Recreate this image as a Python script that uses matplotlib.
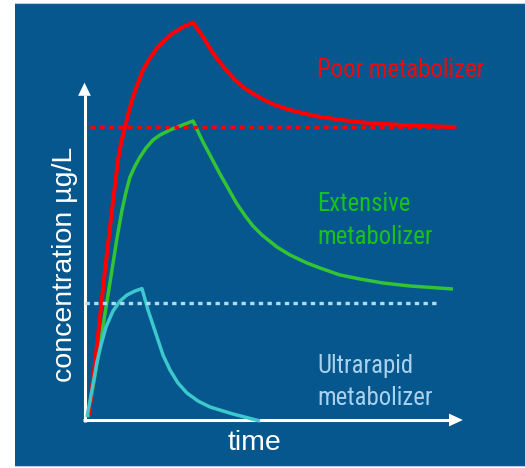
import matplotlib
matplotlib.use("Agg")
import matplotlib.pyplot as plt
from matplotlib import font_manager
from matplotlib.patches import Rectangle, Polygon

# ---- data: time (h) vs concentration (µg/L) for three metabolizer phenotypes ----
poor_t = [0.08, 0.293, 0.507, 0.693, 0.853, 0.933, 1.04, 1.147, 1.253, 1.387,
          1.52, 1.707, 1.893, 2.107, 2.32, 2.587, 2.853, 3.013, 3.173, 3.333,
          3.52, 3.76, 3.973, 4.187, 4.427, 4.72, 5.04, 5.387, 5.76, 6.187,
          6.64, 7.04, 7.52, 7.973, 8.427, 9.173, 9.867]
poor_c = [1.0, 18.5, 37.25, 52.25, 64.75, 69.0, 73.0, 77.0, 80.5, 84.0,
          87.25, 90.25, 92.75, 94.75, 96.5, 98.0, 99.1, 97.0, 94.75, 92.25,
          89.75, 87.0, 84.75, 83.0, 81.5, 79.9, 78.5, 77.4, 76.5, 75.6,
          75.0, 74.5, 74.0, 73.75, 73.5, 73.2, 73.0]

ext_t = [0.053, 0.373, 0.693, 0.827, 0.96, 1.067, 1.173, 1.307, 1.44, 1.6,
         1.787, 1.973, 2.24, 2.507, 2.853, 3.12, 3.573, 4.027, 4.267, 4.453,
         4.693, 5.093, 5.44, 5.893, 6.24, 6.773, 7.307, 7.92, 8.64, 9.787]
ext_c = [0.5, 18.5, 37.25, 45.25, 52.25, 56.75, 60.5, 63.25, 65.5, 67.75,
         69.75, 71.0, 72.25, 73.25, 74.5, 69.25, 61.25, 53.75, 50.5, 48.25,
         46.0, 43.0, 41.0, 39.0, 37.75, 36.0, 35.0, 34.0, 33.25, 32.5]

ultra_t = [0.027, 0.16, 0.293, 0.4, 0.533, 0.72, 0.907, 1.093, 1.307, 1.493,
           1.653, 1.893, 2.053, 2.24, 2.453, 2.693, 2.987, 3.307, 3.92, 4.64]
ultra_c = [0.5, 7.25, 14.25, 18.5, 23.0, 27.0, 29.5, 31.0, 32.0, 32.6,
           27.25, 20.5, 16.0, 12.25, 9.0, 6.5, 4.5, 3.0, 1.25, -0.5]

# therapeutic thresholds (horizontal dotted reference lines)
poor_level = 72.9
poor_level_span = [0.11, 9.87]
ultra_level = 28.9
ultra_level_span = [-0.03, 9.36]

labels = ["Poor metabolizer", ["Extensive", "metabolizer"], ["Ultrarapid", "metabolizer"]]
x_label = "time"
y_label = "concentration µg/L"

# ---- figure ----
W, H = 525, 468
fig = plt.figure(figsize=(W / 100, H / 100), dpi=100, facecolor="white")

ax = fig.add_axes([0, 0, 1, 1])
ax.set_facecolor("none")
ax.axis("off")
ax.set_xlim(-86 / 37.5, (W - 86) / 37.5)
ax.set_ylim((419 - H) / 4, 419 / 4)

# blue panel behind the plot
panel = "#05578e"
ax.add_patch(Rectangle((15 / W, 2.5 / H), 1 - 15 / W, 1 - 6 / H,
                       transform=fig.transFigure, facecolor=panel,
                       edgecolor="none", zorder=0))
for yy in (465.5, 2.8):
    ax.plot([15 / W, 1], [1 - yy / H, 1 - yy / H], transform=fig.transFigure,
            color="#b5cce0", lw=0.8, zorder=1)

# axes with arrowheads
x0, y0 = -0.04, -0.25
x_tip, y_tip = 10.05, 84.1
ax.plot([x0 - 0.04, x_tip - 0.3], [y0, y0], color="white", lw=2.2,
        solid_capstyle="butt", zorder=3)
ax.plot([x0, x0], [y0 - 0.4, y_tip - 3], color="white", lw=2.2,
        solid_capstyle="butt", zorder=3)
ax.add_patch(Polygon([[x_tip, y0], [x_tip - 0.37, y0 + 1.6], [x_tip - 0.37, y0 - 1.6]],
                     closed=True, color="white", lw=0, zorder=3))
ax.add_patch(Polygon([[x0, y_tip], [x0 - 0.17, y_tip - 3.3], [x0 + 0.17, y_tip - 3.3]],
                     closed=True, color="white", lw=0, zorder=3))

# concentration curves
ax.plot(ext_t, ext_c, color="#33c433", lw=2.5, solid_joinstyle="round",
        solid_capstyle="butt", zorder=4)
ax.plot(poor_t, poor_c, color="#ff0000", lw=2.9, solid_joinstyle="round",
        solid_capstyle="butt", zorder=5)
ax.plot(ultra_t, ultra_c, color="#3cc8cc", lw=2.5, solid_joinstyle="round",
        solid_capstyle="butt", zorder=6)

# dotted threshold lines
ax.plot(poor_level_span, [poor_level] * 2, color="#ff0000", lw=2.4,
        dashes=(1.4, 1.4), dash_capstyle="butt", zorder=7)
ax.plot(ultra_level_span, [ultra_level] * 2, color="#aedcf3", lw=2.4,
        dashes=(1.3, 1.3), dash_capstyle="butt", zorder=7)

# ---- text ----
names = {f.name for f in font_manager.fontManager.ttflist}
narrow = "Liberation Sans"
for cand in ("Liberation Sans Narrow", "Roboto Condensed", "Open Sans Condensed",
             "DejaVu Sans Condensed", "Noto Sans Condensed"):
    if cand in names:
        narrow = cand
        break
plain = "Liberation Sans" if "Liberation Sans" in names else "DejaVu Sans"

# size the phenotype labels so that "Poor metabolizer" spans about 167 px
renderer = fig.canvas.get_renderer()
probe = fig.text(0, 0, labels[0], fontsize=20, family=narrow)
nsize = 20 * 167 / probe.get_window_extent(renderer).width
probe.remove()


def ftext(px, py, s, **kw):
    fig.text(px / W, 1 - py / H, s, zorder=10, **kw)


ftext(317, 77, labels[0], color="#ee0a0a", fontsize=nsize, family=narrow,
      va="baseline", ha="left")
ftext(317, 211, labels[1][0], color="#19c219", fontsize=nsize, family=narrow,
      va="baseline", ha="left")
ftext(317, 244, labels[1][1], color="#19c219", fontsize=nsize, family=narrow,
      va="baseline", ha="left")
ftext(317, 372.5, labels[2][0], color="#a8d2ee", fontsize=nsize, family=narrow,
      va="baseline", ha="left")
ftext(317, 405, labels[2][1], color="#a8d2ee", fontsize=nsize, family=narrow,
      va="baseline", ha="left")

ftext(254, 450, x_label, color="white", fontsize=20.5, family=plain,
      va="baseline", ha="center")
ftext(71.5, 264.5, y_label, color="white", fontsize=20.5, family=plain,
      va="baseline", ha="center", rotation=90, rotation_mode="anchor")

fig.savefig("out.png", dpi=100, facecolor="white")
